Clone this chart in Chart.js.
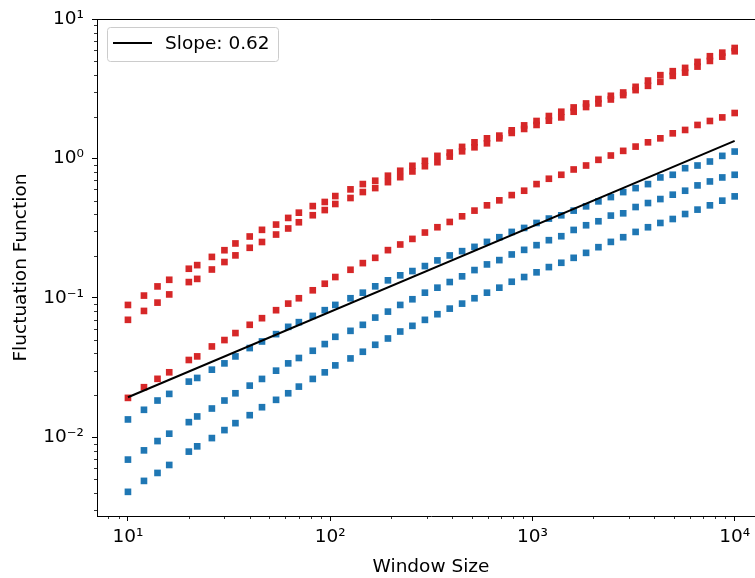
<!DOCTYPE html>
<html>
<head>
<meta charset="utf-8">
<script src="https://cdn.jsdelivr.net/npm/chart.js@4.4.0/dist/chart.umd.min.js"></script>
<style>
  html, body { margin: 0; padding: 0; background: #fff; overflow: hidden; }
  #wrap { width: 780px; height: 578px; }
</style>
</head>
<body>
<div id="wrap"><canvas id="chart" width="780" height="578"></canvas></div>
<script>
// window sizes (x) shared by every series
const windowSizes = [10, 12, 14, 16, 20, 22, 26, 30, 34, 40, 46, 54, 62, 70, 82, 94, 106,
  126, 145, 167, 193, 222, 255, 294, 339, 390, 449, 517, 596, 686, 790, 910, 1048, 1206,
  1389, 1599, 1842, 2120, 2442, 2811, 3237, 3727, 4291, 4941, 5689, 6551, 7543, 8685, 10000];

// red series
const redUpper = [0.0891, 0.104, 0.121, 0.135, 0.162, 0.172, 0.197, 0.220, 0.246, 0.276,
  0.308, 0.336, 0.375, 0.409, 0.456, 0.488, 0.538, 0.601, 0.656, 0.693,
  0.753, 0.817, 0.887, 0.963, 1.045, 1.104, 1.212, 1.307, 1.396, 1.460,
  1.593, 1.729, 1.859, 2.018, 2.166, 2.325, 2.483, 2.670, 2.818, 2.975,
  3.268, 3.625, 3.962, 4.231, 4.467, 4.931, 5.416, 5.745, 6.206];
const redLower = [0.0697, 0.0807, 0.0926, 0.106, 0.130, 0.137, 0.160, 0.181, 0.202, 0.229,
  0.252, 0.285, 0.315, 0.349, 0.392, 0.427, 0.472, 0.521, 0.575, 0.614,
  0.677, 0.735, 0.808, 0.881, 0.941, 1.033, 1.127, 1.204, 1.286, 1.396,
  1.526, 1.630, 1.741, 1.868, 1.972, 2.166, 2.341, 2.483, 2.652, 2.851,
  3.095, 3.322, 3.548, 3.916, 4.134, 4.564, 5.012, 5.379, 5.879];
const redMid = [0.0192, 0.0229, 0.0263, 0.0293, 0.0359, 0.0381, 0.0449, 0.0499, 0.0560, 0.0642,
  0.0716, 0.0817, 0.0911, 0.0995, 0.1135, 0.1265, 0.1413, 0.1593, 0.1778, 0.194,
  0.2203, 0.2418, 0.2652, 0.2946, 0.3215, 0.3508, 0.3852, 0.4231, 0.4616, 0.5012,
  0.5467, 0.5877, 0.6555, 0.7161, 0.7647, 0.8346, 0.8913, 0.9788, 1.051, 1.135,
  1.218, 1.307, 1.396, 1.516, 1.603, 1.741, 1.859, 1.972, 2.121];

// blue series
const blueTop = [0.01345, 0.01577, 0.01838, 0.02051, 0.02512, 0.02669, 0.0306, 0.03395, 0.03808, 0.04372,
  0.04873, 0.05503, 0.06207, 0.06706, 0.07436, 0.08173, 0.08913, 0.09951, 0.1091, 0.1212,
  0.1338, 0.1453, 0.1559, 0.1693, 0.1859, 0.2018, 0.2166, 0.2325, 0.2524, 0.2727,
  0.2976, 0.3178, 0.345, 0.371, 0.3916, 0.4231, 0.4541, 0.493, 0.5292, 0.5745,
  0.6136, 0.6555, 0.7317, 0.7647, 0.8527, 0.8913, 0.9519, 1.045, 1.122];
const blueMid = [0.00693, 0.00807, 0.00941, 0.01063, 0.01286, 0.01413, 0.01611, 0.01838, 0.02072, 0.02351,
  0.02626, 0.0301, 0.03395, 0.0371, 0.04181, 0.04669, 0.05265, 0.05809, 0.06416, 0.07232,
  0.07981, 0.08913, 0.09788, 0.1091, 0.1185, 0.1301, 0.1429, 0.1585, 0.174, 0.1868,
  0.2051, 0.2213, 0.2391, 0.2596, 0.2772, 0.3075, 0.3322, 0.3548, 0.3897, 0.4047,
  0.4489, 0.4795, 0.5121, 0.5503, 0.5877, 0.6416, 0.6849, 0.7317, 0.7647];
const blueLow = [0.004068, 0.004874, 0.005559, 0.006341, 0.007906, 0.008624, 0.009886, 0.01128, 0.01265, 0.01443,
  0.01646, 0.01859, 0.02072, 0.02313, 0.02626, 0.02927, 0.03284, 0.03684, 0.04113, 0.04615,
  0.05121, 0.05745, 0.0631, 0.06966, 0.07647, 0.08386, 0.09107, 0.09951, 0.1091, 0.1185,
  0.1307, 0.1413, 0.1527, 0.1665, 0.1788, 0.194, 0.2106, 0.2313, 0.2524, 0.2727,
  0.2976, 0.3215, 0.345, 0.3684, 0.4, 0.4301, 0.4616, 0.4987, 0.5353];

// fitted line
const fitX = [10, 10000];
const fitY = [0.0194, 1.338];
const fitLabel = 'Slope: 0.62';

const RED = '#d62728';
const BLUE = '#1f77b4';
const FONT = 'DejaVu Sans';
const FSIZE = 18.5;

const pts = (ys) => windowSizes.map((x, i) => ({x: x, y: ys[i]}));
const isDecade = (v) => Math.abs(Math.log10(v) - Math.round(Math.log10(v))) < 1e-9;
const SUP = {'0':'⁰','1':'¹','2':'²','3':'³','4':'⁴','5':'⁵','6':'⁶','7':'⁷','8':'⁸','9':'⁹','-':'⁻'};
const decadeLabel = (v) => isDecade(v) ? '10' + String(Math.round(Math.log10(v))).split('').map(c => SUP[c]).join('') : '';

const markerSet = (ys, color) => ({
  data: pts(ys),
  backgroundColor: color,
  borderWidth: 0,
  pointStyle: 'rect',
  pointRadius: 4.7,
  pointHoverRadius: 4.7,
  showLine: false
});

// minor ticks, top spine and legend box
const axisExtras = {
  id: 'axisExtras',
  afterDraw(chart) {
    const {ctx, chartArea: a} = chart;
    const xs = chart.scales.x, ys = chart.scales.y;
    ctx.save();
    ctx.strokeStyle = '#000';
    ctx.lineWidth = 1;
    ctx.beginPath();
    ctx.moveTo(a.left - 0.5, Math.round(a.top) + 0.5);
    ctx.lineTo(a.right, Math.round(a.top) + 0.5);
    ctx.stroke();

    ctx.lineWidth = 0.8;
    ctx.beginPath();
    for (let d = -4; d <= 5; d++) {
      for (let m = 2; m <= 9; m++) {
        const v = m * Math.pow(10, d);
        if (v > xs.min && v < xs.max) {
          const px = Math.round(xs.getPixelForValue(v)) + 0.5;
          ctx.moveTo(px, a.bottom);
          ctx.lineTo(px, a.bottom + 3);
        }
        if (v > ys.min && v < ys.max) {
          const py = Math.round(ys.getPixelForValue(v)) + 0.5;
          ctx.moveTo(a.left, py);
          ctx.lineTo(a.left - 3, py);
        }
      }
    }
    ctx.stroke();

    // legend
    const lx = 107, ly = 27, lw = 171, lh = 34;
    ctx.beginPath();
    ctx.roundRect(lx + 0.5, ly + 0.5, lw, lh, 3);
    ctx.fillStyle = 'rgba(255,255,255,0.8)';
    ctx.fill();
    ctx.strokeStyle = '#cccccc';
    ctx.lineWidth = 1;
    ctx.stroke();
    ctx.beginPath();
    ctx.moveTo(lx + 6, ly + 16);
    ctx.lineTo(lx + 45, ly + 16);
    ctx.strokeStyle = '#000';
    ctx.lineWidth = 2;
    ctx.stroke();
    ctx.fillStyle = '#000';
    ctx.font = FSIZE + 'px "' + FONT + '"';
    ctx.textBaseline = 'middle';
    ctx.textAlign = 'left';
    ctx.fillText(chart.data.datasets[0].label, lx + 58, ly + 17);
    ctx.restore();
  }
};

const tickOpts = (pad) => ({
  autoSkip: false,
  maxRotation: 0,
  padding: pad,
  color: '#000',
  font: {family: FONT, size: FSIZE},
  callback: (v) => decadeLabel(v)
});
const gridOpts = {
  drawOnChartArea: false,
  tickLength: 5,
  tickWidth: 1,
  tickColor: (c) => (c.tick && isDecade(c.tick.value)) ? '#000' : 'rgba(0,0,0,0)'
};

new Chart(document.getElementById('chart'), {
  type: 'scatter',
  data: {
    datasets: [
      {
        type: 'line',
        label: fitLabel,
        data: fitX.map((x, i) => ({x: x, y: fitY[i]})),
        borderColor: '#000',
        borderWidth: 2,
        pointRadius: 0,
        fill: false,
        showLine: true
      },
      markerSet(redUpper, RED),
      markerSet(redLower, RED),
      markerSet(redMid, RED),
      markerSet(blueTop, BLUE),
      markerSet(blueMid, BLUE),
      markerSet(blueLow, BLUE)
    ]
  },
  options: {
    responsive: false,
    animation: false,
    layout: {padding: {left: 0, top: 17, right: 15, bottom: 0}},
    plugins: {legend: {display: false}, tooltip: {enabled: false}},
    scales: {
      x: {
        type: 'logarithmic',
        min: 7.03,
        max: 14125,
        ticks: tickOpts(5),
        grid: gridOpts,
        border: {display: true, color: '#000', width: 1},
        title: {display: true, text: 'Window Size', color: '#000',
                font: {family: FONT, size: FSIZE}, padding: {top: 0, bottom: 0}},
        afterFit: (s) => { s.height = 62; }
      },
      y: {
        type: 'logarithmic',
        min: 0.00273,
        max: 10,
        ticks: tickOpts(8),
        grid: gridOpts,
        border: {display: true, color: '#000', width: 1},
        title: {display: true, text: 'Fluctuation Function', color: '#000',
                font: {family: FONT, size: FSIZE}, padding: {top: 10, bottom: 0}},
        afterFit: (s) => { s.width = 97; }
      }
    }
  },
  plugins: [axisExtras]
});
</script>
</body>
</html>
